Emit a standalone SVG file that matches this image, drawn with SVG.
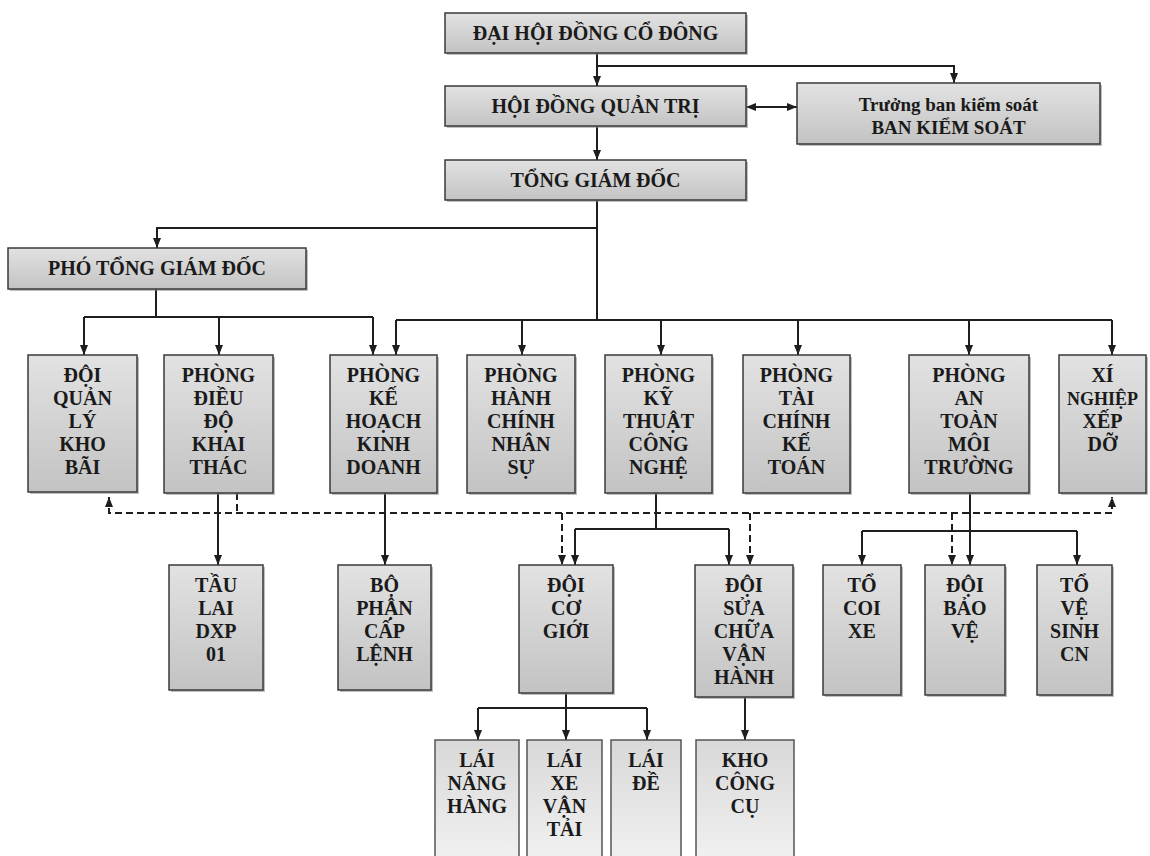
<svg xmlns="http://www.w3.org/2000/svg" width="1150" height="856" viewBox="0 0 1150 856">
<style>
.box{stroke:#3a3a3a;stroke-width:1.5;fill:url(#g1)}
.lbox{stroke:#555;stroke-width:1.5;fill:url(#g2)}
.sh{fill:#8a8a8a;opacity:0.55}
.t{font-family:"Liberation Serif","Times New Roman",serif;font-weight:bold;font-size:20px;text-anchor:middle;fill:#1a1a1a}
.ts{font-size:19px}
.tn{font-size:18px}
.c{fill:none;stroke:#1e1e1e;stroke-width:2}
.d{fill:none;stroke:#1e1e1e;stroke-width:2;stroke-dasharray:7 4}
.a{marker-end:url(#arr)}
</style>
<defs>
<linearGradient id="g1" x1="0" y1="0" x2="0" y2="1">
<stop offset="0" stop-color="#e2e2e2"/>
<stop offset="1" stop-color="#c3c3c3"/>
</linearGradient>
<linearGradient id="g2" x1="0" y1="0" x2="0" y2="1">
<stop offset="0" stop-color="#d8d8d8"/>
<stop offset="1" stop-color="#f2f2f2"/>
</linearGradient>
<marker id="arr" viewBox="0 0 10 8" refX="10" refY="4" markerWidth="10" markerHeight="8" markerUnits="userSpaceOnUse" orient="auto-start-reverse">
<path d="M0,0 L10,4 L0,8 z" fill="#1e1e1e"/>
</marker>
</defs>
<rect width="1150" height="856" fill="#ffffff"/>

<g id="connectors">
<path class="c a" d="M597,53 V86"/>
<path class="c a" d="M597,66 H954 V83"/>
<path class="c a" d="M746,107 H797" style="marker-start:url(#arr)"/>
<path class="c a" d="M597,126 V160"/>
<path class="c" d="M597,200 V320"/>
<path class="c" d="M396,320 H1112"/>
<path class="c a" d="M396,320 V355"/>
<path class="c a" d="M522,320 V355"/>
<path class="c a" d="M661,320 V355"/>
<path class="c a" d="M798,320 V355"/>
<path class="c a" d="M969,320 V355"/>
<path class="c a" d="M1112,320 V355"/>
<path class="c a" d="M597,228 H157 V248"/>
<path class="c" d="M156,289 V317"/>
<path class="c" d="M84,317 H373"/>
<path class="c a" d="M84,317 V355"/>
<path class="c a" d="M219,317 V355"/>
<path class="c a" d="M373,317 V355"/>
<path class="c a" d="M218,493 V565"/>
<path class="c a" d="M385,493 V565"/>
<path class="c" d="M656,493 V529"/>
<path class="c" d="M575,529 H729"/>
<path class="c a" d="M575,529 V565"/>
<path class="c a" d="M729,529 V565"/>
<path class="c a" d="M970,493 V565"/>
<path class="c" d="M862,531 H1077"/>
<path class="c a" d="M862,531 V565"/>
<path class="c a" d="M1077,531 V565"/>
<path class="c" d="M566,693 V708"/>
<path class="c" d="M478,708 H647"/>
<path class="c a" d="M478,708 V740"/>
<path class="c a" d="M566,708 V740"/>
<path class="c a" d="M647,708 V740"/>
<path class="c a" d="M745,697 V740"/>
<path class="d a" d="M109,497 V513 H1112 V497" style="marker-start:url(#arr)"/>
<path class="d" d="M237,493 V513"/>
<path class="d a" d="M562,513 V565"/>
<path class="d a" d="M750,513 V565"/>
<path class="d a" d="M952,513 V565"/>
</g>

<g id="dai-hoi-dong-co-dong">
<rect class="sh" x="447" y="15" width="301" height="40"/>
<rect class="box" x="445" y="13" width="301" height="40"/>
<text class="t" x="595.5" y="40">ĐẠI HỘI ĐỒNG CỔ ĐÔNG</text>
</g>
<g id="hoi-dong-quan-tri">
<rect class="sh" x="447" y="88" width="301" height="40"/>
<rect class="box" x="445" y="86" width="301" height="40"/>
<text class="t" x="595.5" y="113">HỘI ĐỒNG QUẢN TRỊ</text>
</g>
<g id="ban-kiem-soat">
<rect class="sh" x="799" y="85" width="303" height="61"/>
<rect class="box" x="797" y="83" width="303" height="61"/>
<text class="t ts" x="948.5" y="111">Trưởng ban kiểm soát</text>
<text class="t ts" x="948.5" y="134">BAN KIỂM SOÁT</text>
</g>
<g id="tong-giam-doc">
<rect class="sh" x="447" y="162" width="301" height="40"/>
<rect class="box" x="445" y="160" width="301" height="40"/>
<text class="t" x="595.5" y="187">TỔNG GIÁM ĐỐC</text>
</g>
<g id="pho-tong-giam-doc">
<rect class="sh" x="10" y="250" width="298" height="41"/>
<rect class="box" x="8" y="248" width="298" height="41"/>
<text class="t" x="157" y="275">PHÓ TỔNG GIÁM ĐỐC</text>
</g>

<g id="doi-quan-ly-kho-bai">
<rect class="sh" x="30" y="357" width="109" height="137"/>
<rect class="box" x="28" y="355" width="109" height="137"/>
<text class="t" x="82.5" y="382">ĐỘI</text>
<text class="t" x="82.5" y="405">QUẢN</text>
<text class="t" x="82.5" y="428">LÝ</text>
<text class="t" x="82.5" y="451">KHO</text>
<text class="t" x="82.5" y="474">BÃI</text>
</g>
<g id="phong-dieu-do-khai-thac">
<rect class="sh" x="166" y="357" width="109" height="138"/>
<rect class="box" x="164" y="355" width="109" height="138"/>
<text class="t" x="218.5" y="382">PHÒNG</text>
<text class="t" x="218.5" y="405">ĐIỀU</text>
<text class="t" x="218.5" y="428">ĐỘ</text>
<text class="t" x="218.5" y="451">KHAI</text>
<text class="t" x="218.5" y="474">THÁC</text>
</g>
<g id="phong-ke-hoach-kinh-doanh">
<rect class="sh" x="332" y="357" width="107" height="138"/>
<rect class="box" x="330" y="355" width="107" height="138"/>
<text class="t" x="383.5" y="382">PHÒNG</text>
<text class="t" x="383.5" y="405">KẾ</text>
<text class="t" x="383.5" y="428">HOẠCH</text>
<text class="t" x="383.5" y="451">KINH</text>
<text class="t" x="383.5" y="474">DOANH</text>
</g>
<g id="phong-hanh-chinh-nhan-su">
<rect class="sh" x="469" y="357" width="108" height="138"/>
<rect class="box" x="467" y="355" width="108" height="138"/>
<text class="t" x="521" y="382">PHÒNG</text>
<text class="t" x="521" y="405">HÀNH</text>
<text class="t" x="521" y="428">CHÍNH</text>
<text class="t" x="521" y="451">NHÂN</text>
<text class="t" x="521" y="474">SỰ</text>
</g>
<g id="phong-ky-thuat-cong-nghe">
<rect class="sh" x="607" y="357" width="107" height="138"/>
<rect class="box" x="605" y="355" width="107" height="138"/>
<text class="t" x="658.5" y="382">PHÒNG</text>
<text class="t" x="658.5" y="405">KỸ</text>
<text class="t" x="658.5" y="428">THUẬT</text>
<text class="t" x="658.5" y="451">CÔNG</text>
<text class="t" x="658.5" y="474">NGHỆ</text>
</g>
<g id="phong-tai-chinh-ke-toan">
<rect class="sh" x="745" y="357" width="107" height="138"/>
<rect class="box" x="743" y="355" width="107" height="138"/>
<text class="t" x="796.5" y="382">PHÒNG</text>
<text class="t" x="796.5" y="405">TÀI</text>
<text class="t" x="796.5" y="428">CHÍNH</text>
<text class="t" x="796.5" y="451">KẾ</text>
<text class="t" x="796.5" y="474">TOÁN</text>
</g>
<g id="phong-an-toan-moi-truong">
<rect class="sh" x="911" y="357" width="120" height="138"/>
<rect class="box" x="909" y="355" width="120" height="138"/>
<text class="t" x="969" y="382">PHÒNG</text>
<text class="t" x="969" y="405">AN</text>
<text class="t" x="969" y="428">TOÀN</text>
<text class="t" x="969" y="451">MÔI</text>
<text class="t" x="969" y="474">TRƯỜNG</text>
</g>
<g id="xi-nghiep-xep-do">
<rect class="sh" x="1061" y="357" width="87" height="138"/>
<rect class="box" x="1059" y="355" width="87" height="138"/>
<text class="t" x="1102.5" y="382">XÍ</text>
<text class="t tn" x="1102.5" y="405">NGHIỆP</text>
<text class="t" x="1102.5" y="428">XẾP</text>
<text class="t" x="1102.5" y="451">DỠ</text>
</g>

<g id="tau-lai-dxp-01">
<rect class="sh" x="171" y="567" width="94" height="125"/>
<rect class="box" x="169" y="565" width="94" height="125"/>
<text class="t" x="216" y="592">TẦU</text>
<text class="t" x="216" y="615">LAI</text>
<text class="t" x="216" y="638">DXP</text>
<text class="t" x="216" y="661">01</text>
</g>
<g id="bo-phan-cap-lenh">
<rect class="sh" x="340" y="567" width="93" height="125"/>
<rect class="box" x="338" y="565" width="93" height="125"/>
<text class="t" x="384.5" y="592">BỘ</text>
<text class="t" x="384.5" y="615">PHẬN</text>
<text class="t" x="384.5" y="638">CẤP</text>
<text class="t" x="384.5" y="661">LỆNH</text>
</g>
<g id="doi-co-gioi">
<rect class="sh" x="521" y="567" width="94" height="128"/>
<rect class="box" x="519" y="565" width="94" height="128"/>
<text class="t" x="566" y="592">ĐỘI</text>
<text class="t" x="566" y="615">CƠ</text>
<text class="t" x="566" y="638">GIỚI</text>
</g>
<g id="doi-sua-chua-van-hanh">
<rect class="sh" x="697" y="567" width="98" height="132"/>
<rect class="box" x="695" y="565" width="98" height="132"/>
<text class="t" x="744" y="592">ĐỘI</text>
<text class="t" x="744" y="615">SỬA</text>
<text class="t" x="744" y="638">CHỮA</text>
<text class="t" x="744" y="661">VẬN</text>
<text class="t" x="744" y="684">HÀNH</text>
</g>
<g id="to-coi-xe">
<rect class="sh" x="825" y="567" width="78" height="130"/>
<rect class="box" x="823" y="565" width="78" height="130"/>
<text class="t" x="862" y="592">TỔ</text>
<text class="t" x="862" y="615">COI</text>
<text class="t" x="862" y="638">XE</text>
</g>
<g id="doi-bao-ve">
<rect class="sh" x="927" y="567" width="80" height="130"/>
<rect class="box" x="925" y="565" width="80" height="130"/>
<text class="t" x="965" y="592">ĐỘI</text>
<text class="t" x="965" y="615">BẢO</text>
<text class="t" x="965" y="638">VỆ</text>
</g>
<g id="to-ve-sinh-cn">
<rect class="sh" x="1039" y="567" width="75" height="130"/>
<rect class="box" x="1037" y="565" width="75" height="130"/>
<text class="t" x="1074.5" y="592">TỔ</text>
<text class="t" x="1074.5" y="615">VỆ</text>
<text class="t" x="1074.5" y="638">SINH</text>
<text class="t" x="1074.5" y="661">CN</text>
</g>

<g id="lai-nang-hang">
<rect class="lbox" x="435" y="740" width="84" height="125"/>
<text class="t" x="477" y="767">LÁI</text>
<text class="t" x="477" y="790">NÂNG</text>
<text class="t" x="477" y="813">HÀNG</text>
</g>
<g id="lai-xe-van-tai">
<rect class="lbox" x="527" y="740" width="75" height="125"/>
<text class="t" x="564.5" y="767">LÁI</text>
<text class="t" x="564.5" y="790">XE</text>
<text class="t" x="564.5" y="813">VẬN</text>
<text class="t" x="564.5" y="836">TẢI</text>
</g>
<g id="lai-de">
<rect class="lbox" x="611" y="740" width="70" height="125"/>
<text class="t" x="646" y="767">LÁI</text>
<text class="t" x="646" y="790">ĐỀ</text>
</g>
<g id="kho-cong-cu">
<rect class="lbox" x="696" y="740" width="98" height="125"/>
<text class="t" x="745" y="767">KHO</text>
<text class="t" x="745" y="790">CÔNG</text>
<text class="t" x="745" y="813">CỤ</text>
</g>
</svg>
